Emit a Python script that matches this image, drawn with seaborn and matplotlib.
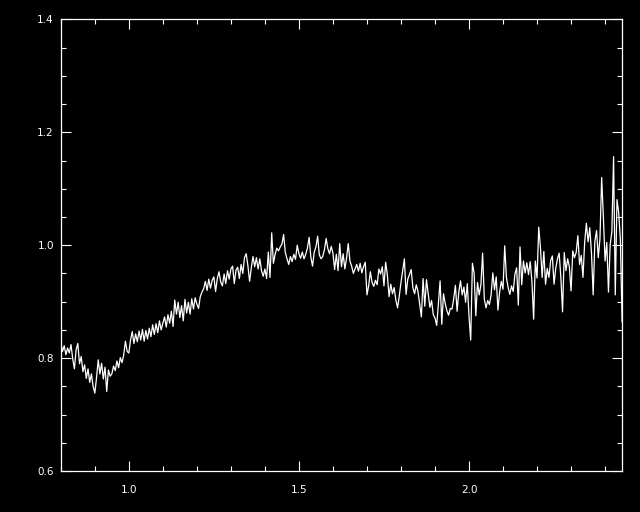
import matplotlib
matplotlib.use("Agg")
import matplotlib.pyplot as plt
import seaborn as sns
import pandas as pd
from matplotlib.ticker import MultipleLocator

# wavelength grid (micron) and normalised flux
wave = [
    0.800, 0.805, 0.810, 0.815, 0.820, 0.825, 0.830, 0.835, 0.840, 0.845,
    0.850, 0.855, 0.860, 0.865, 0.870, 0.875, 0.880, 0.885, 0.890, 0.895,
    0.900, 0.905, 0.910, 0.915, 0.920, 0.925, 0.930, 0.935, 0.940, 0.945,
    0.950, 0.955, 0.960, 0.965, 0.970, 0.975, 0.980, 0.985, 0.990, 0.995,
    1.000, 1.005, 1.010, 1.015, 1.020, 1.025, 1.030, 1.035, 1.040, 1.045,
    1.050, 1.055, 1.060, 1.065, 1.070, 1.075, 1.080, 1.085, 1.090, 1.095,
    1.100, 1.105, 1.110, 1.115, 1.120, 1.125, 1.130, 1.135, 1.140, 1.145,
    1.150, 1.155, 1.160, 1.165, 1.170, 1.175, 1.180, 1.185, 1.190, 1.195,
    1.200, 1.205, 1.210, 1.215, 1.220, 1.225, 1.230, 1.235, 1.240, 1.245,
    1.250, 1.255, 1.260, 1.265, 1.270, 1.275, 1.280, 1.285, 1.290, 1.295,
    1.300, 1.305, 1.310, 1.315, 1.320, 1.325, 1.330, 1.335, 1.340, 1.345,
    1.350, 1.355, 1.360, 1.365, 1.370, 1.375, 1.380, 1.385, 1.390, 1.395,
    1.400, 1.405, 1.410, 1.415, 1.420, 1.425, 1.430, 1.435, 1.440, 1.445,
    1.450, 1.455, 1.460, 1.465, 1.470, 1.475, 1.480, 1.485, 1.490, 1.495,
    1.500, 1.505, 1.510, 1.515, 1.520, 1.525, 1.530, 1.535, 1.540, 1.545,
    1.550, 1.555, 1.560, 1.565, 1.570, 1.575, 1.580, 1.585, 1.590, 1.595,
    1.600, 1.605, 1.610, 1.615, 1.620, 1.625, 1.630, 1.635, 1.640, 1.645,
    1.650, 1.655, 1.660, 1.665, 1.670, 1.675, 1.680, 1.685, 1.690, 1.695,
    1.700, 1.705, 1.710, 1.715, 1.720, 1.725, 1.730, 1.735, 1.740, 1.745,
    1.750, 1.755, 1.760, 1.765, 1.770, 1.775, 1.780, 1.785, 1.790, 1.795,
    1.800, 1.805, 1.810, 1.815, 1.820, 1.825, 1.830, 1.835, 1.840, 1.845,
    1.850, 1.855, 1.860, 1.865, 1.870, 1.875, 1.880, 1.885, 1.890, 1.895,
    1.900, 1.905, 1.910, 1.915, 1.920, 1.925, 1.930, 1.935, 1.940, 1.945,
    1.950, 1.955, 1.960, 1.965, 1.970, 1.975, 1.980, 1.985, 1.990, 1.995,
    2.000, 2.005, 2.010, 2.015, 2.020, 2.025, 2.030, 2.035, 2.040, 2.045,
    2.050, 2.055, 2.060, 2.065, 2.070, 2.075, 2.080, 2.085, 2.090, 2.095,
    2.100, 2.105, 2.110, 2.115, 2.120, 2.125, 2.130, 2.135, 2.140, 2.145,
    2.150, 2.155, 2.160, 2.165, 2.170, 2.175, 2.180, 2.185, 2.190, 2.195,
    2.200, 2.205, 2.210, 2.215, 2.220, 2.225, 2.230, 2.235, 2.240, 2.245,
    2.250, 2.255, 2.260, 2.265, 2.270, 2.275, 2.280, 2.285, 2.290, 2.295,
    2.300, 2.305, 2.310, 2.315, 2.320, 2.325, 2.330, 2.335, 2.340, 2.345,
    2.350, 2.355, 2.360, 2.365, 2.370, 2.375, 2.380, 2.385, 2.390, 2.395,
    2.400, 2.405, 2.410, 2.415, 2.420, 2.425, 2.430, 2.435, 2.440, 2.445,
    2.450,
]

flux = [
    0.826, 0.812, 0.822, 0.806, 0.818, 0.809, 0.824, 0.799, 0.781, 0.815,
    0.826, 0.790, 0.803, 0.776, 0.788, 0.764, 0.781, 0.757, 0.772, 0.750,
    0.738, 0.765, 0.797, 0.772, 0.791, 0.763, 0.784, 0.741, 0.779, 0.768,
    0.772, 0.786, 0.778, 0.795, 0.783, 0.801, 0.792, 0.806, 0.830, 0.812,
    0.809, 0.832, 0.847, 0.826, 0.843, 0.829, 0.848, 0.832, 0.851, 0.830,
    0.849, 0.834, 0.853, 0.838, 0.859, 0.842, 0.861, 0.845, 0.866, 0.850,
    0.862, 0.873, 0.855, 0.877, 0.862, 0.883, 0.856, 0.903, 0.878, 0.899,
    0.872, 0.893, 0.866, 0.904, 0.880, 0.899, 0.878, 0.905, 0.887, 0.907,
    0.896, 0.888, 0.909, 0.917, 0.923, 0.936, 0.920, 0.940, 0.924, 0.938,
    0.944, 0.918, 0.941, 0.953, 0.935, 0.928, 0.949, 0.932, 0.955, 0.940,
    0.958, 0.963, 0.932, 0.956, 0.961, 0.941, 0.966, 0.950, 0.978, 0.985,
    0.964, 0.936, 0.960, 0.980, 0.962, 0.978, 0.958, 0.976, 0.955, 0.945,
    0.958, 0.941, 0.988, 0.943, 1.022, 0.968, 0.984, 0.995, 0.990, 0.997,
    1.002, 1.019, 0.987, 0.976, 0.966, 0.980, 0.971, 0.984, 0.975, 1.000,
    0.985, 0.977, 0.988, 0.976, 0.984, 0.995, 1.014, 0.979, 0.963, 0.988,
    0.997, 1.016, 0.983, 0.976, 0.980, 0.992, 1.012, 0.994, 0.985, 0.998,
    0.986, 0.957, 0.984, 0.955, 1.003, 0.962, 0.985, 0.958, 0.977, 1.003,
    0.972, 0.963, 0.950, 0.958, 0.966, 0.954, 0.968, 0.951, 0.962, 0.970,
    0.912, 0.928, 0.953, 0.934, 0.927, 0.938, 0.930, 0.958, 0.949, 0.962,
    0.928, 0.970, 0.947, 0.909, 0.931, 0.914, 0.925, 0.903, 0.889, 0.910,
    0.934, 0.955, 0.976, 0.913, 0.940, 0.948, 0.957, 0.925, 0.914, 0.930,
    0.918, 0.896, 0.873, 0.941, 0.892, 0.939, 0.915, 0.890, 0.902, 0.877,
    0.871, 0.858, 0.896, 0.937, 0.860, 0.914, 0.897, 0.884, 0.876, 0.888,
    0.887, 0.905, 0.929, 0.883, 0.917, 0.937, 0.912, 0.926, 0.899, 0.932,
    0.874, 0.832, 0.968, 0.951, 0.875, 0.934, 0.912, 0.930, 0.986, 0.905,
    0.889, 0.902, 0.895, 0.912, 0.951, 0.921, 0.944, 0.885, 0.917, 0.936,
    0.922, 0.999, 0.943, 0.925, 0.913, 0.928, 0.918, 0.949, 0.960, 0.894,
    0.997, 0.930, 0.972, 0.951, 0.969, 0.948, 0.971, 0.935, 0.869, 0.972,
    0.942, 1.032, 0.996, 0.943, 0.989, 0.931, 0.959, 0.943, 0.973, 0.981,
    0.931, 0.959, 0.976, 0.986, 0.943, 0.882, 0.987, 0.955, 0.976, 0.962,
    0.919, 0.990, 0.978, 0.987, 1.017, 0.966, 0.982, 0.943, 1.005, 1.039,
    1.006, 1.031, 0.987, 0.912, 1.007, 1.026, 0.978, 1.012, 1.120, 1.050,
    0.972, 1.005, 0.917, 1.001, 1.024, 1.157, 0.912, 1.081, 1.058, 1.010,
    0.864,
]

x_range = (0.8, 2.45)
y_range = (0.6, 1.4)

df = pd.DataFrame({"wave": wave, "flux": flux})

sns.set_theme(style="ticks", rc={
    "figure.facecolor": "black",
    "axes.facecolor": "black",
    "axes.edgecolor": "white",
    "axes.labelcolor": "white",
    "xtick.color": "white",
    "ytick.color": "white",
    "text.color": "white",
})
plt.rcParams["font.family"] = ["DejaVu Sans"]

fig = plt.figure(figsize=(6.4, 5.12), dpi=100)
ax = fig.add_axes([0.095, 0.080, 0.877, 0.882])

sns.lineplot(data=df, x="wave", y="flux", color="white", lw=0.9,
             sort=False, ax=ax)

ax.set_xlim(*x_range)
ax.set_ylim(*y_range)
ax.xaxis.set_major_locator(MultipleLocator(0.5))
ax.xaxis.set_minor_locator(MultipleLocator(0.1))
ax.yaxis.set_major_locator(MultipleLocator(0.2))
ax.yaxis.set_minor_locator(MultipleLocator(0.05))
ax.set_xlabel("")
ax.set_ylabel("")

ax.tick_params(which="both", direction="in", top=True, right=True,
               colors="white", width=0.8, labelsize=7.5)
ax.tick_params(which="major", length=7)
ax.tick_params(which="minor", length=3.5)
ax.tick_params(axis="x", pad=10)
ax.tick_params(axis="y", pad=5)
for s in ax.spines.values():
    s.set_color("white")
    s.set_linewidth(0.9)

fig.savefig("out.png", dpi=100, facecolor="black")
